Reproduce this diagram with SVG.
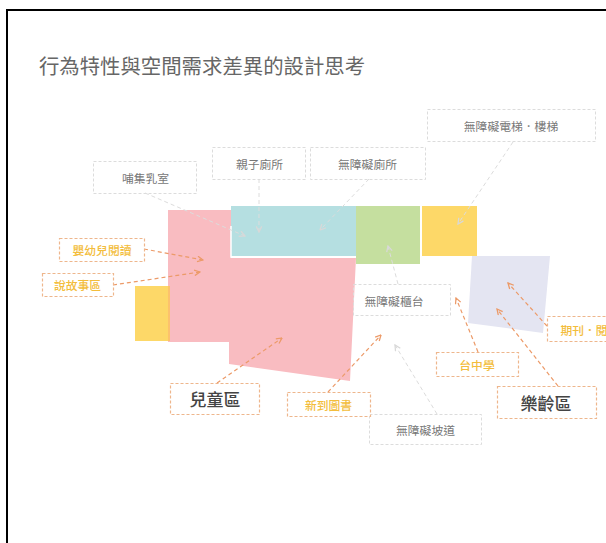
<svg xmlns="http://www.w3.org/2000/svg" width="606" height="543" viewBox="0 0 606 543">
<style>
text{font-family:"Noto Sans CJK TC","Noto Sans CJK SC",sans-serif;text-anchor:middle;dominant-baseline:central}
.g{fill:none;stroke:#dcdcdc;stroke-width:1;stroke-dasharray:3 2}
.o{fill:#fff;stroke:#eeb68c;stroke-width:1.2;stroke-dasharray:3 2}
.gt{font-size:11.800px;fill:#777}
.yt{font-size:11.800px;font-weight:500;fill:#f3bd3c}
.bt{font-size:17px;font-weight:500;fill:#444}
.cg{fill:none;stroke:#dcdcdc;stroke-width:1;stroke-dasharray:4 3}
.co{fill:none;stroke:#ec9a68;stroke-width:1.2;stroke-dasharray:4 3;marker-end:url(#ao)}
</style>
<defs>
<marker id="ao" viewBox="0 0 10 10" refX="9" refY="5" markerWidth="7" markerHeight="7" markerUnits="userSpaceOnUse" orient="auto"><path d="M1 1L9 5L1 9" fill="none" stroke="#ec9a68" stroke-width="1.8"/></marker>
<marker id="ag" viewBox="0 0 10 10" refX="9" refY="5" markerWidth="7" markerHeight="7" markerUnits="userSpaceOnUse" orient="auto"><path d="M1 1L9 5L1 9" fill="none" stroke="#d8d8d8" stroke-width="1.8"/></marker>
</defs>
<rect width="606" height="543" fill="#fff"/>
<path d="M7 543V10H606" fill="none" stroke="#000" stroke-width="2"/>
<text id="title" x="202" y="65" style="font-size:20.400px;fill:#666">行為特性與空間需求差異的設計思考</text>
<g id="areas">
<rect id="area-yellow-left" x="135" y="286" width="35" height="55" fill="#fdd868"/>
<path id="area-children" d="M168 210H231V258H356L350 381L229 364V342H168Z" fill="#f9bcc1"/>
<rect id="area-overlap" x="168" y="286" width="2" height="55" fill="#fcc26c"/>
<rect id="area-teal" x="231" y="206" width="125" height="50" fill="#b5dfe1"/>
<path d="M231 226V257H356" fill="none" stroke="#fff" stroke-width="1.500"/>
<rect id="area-green" x="356" y="206" width="64" height="58" fill="#c5df9f"/>
<rect id="area-yellow-right" x="422" y="206" width="55" height="50" fill="#fdd868"/>
<path id="area-lavender" d="M472 256H550L543 333L468 323Z" fill="#e4e5f2"/>
</g>
<g id="connectors">
<path class="cg" d="M145 193L245 236" marker-end="url(#ag)"/>
<path class="cg" d="M259 179V232" marker-end="url(#ag)"/>
<path class="cg" d="M369 179L320 230" marker-end="url(#ag)"/>
<path class="cg" d="M513 142L458 224" marker-end="url(#ag)"/>
<path class="cg" d="M398 284L388 246" marker-end="url(#ag)"/>
<path class="cg" d="M437 414L395 345" marker-end="url(#ag)"/>
<path class="co" d="M144 249L203 260"/>
<path class="co" d="M113 285L200 272"/>
<path class="co" d="M217 383L282 338"/>
<path class="co" d="M328 392L381 335"/>
<path class="co" d="M478 352L456 298"/>
<path class="co" d="M558 386L497 309"/>
<path class="co" d="M547 326L508 283"/>
</g>
<g id="n-nursing"><rect class="g" x="93.500" y="161.500" width="103" height="32"/><text class="gt" x="145.500" y="177">哺集乳室</text></g>
<g id="n-family-wc"><rect class="g" x="212.500" y="147.500" width="93" height="32"/><text class="gt" x="259.500" y="163">親子廁所</text></g>
<g id="n-access-wc"><rect class="g" x="310.500" y="147.500" width="115" height="32"/><text class="gt" x="367.500" y="163">無障礙廁所</text></g>
<g id="n-elevator"><rect class="g" x="427.500" y="109.500" width="168" height="32"/><text class="gt" x="511" y="125">無障礙電梯．樓梯</text></g>
<g id="n-counter"><rect class="g" x="353.500" y="284.500" width="97" height="31"/><text class="gt" x="394" y="300">無障礙櫃台</text></g>
<g id="n-ramp"><rect class="g" x="369.500" y="414.500" width="112" height="30"/><text class="gt" x="425.500" y="429">無障礙坡道</text></g>
<g id="n-infant"><rect class="o" x="59.500" y="238.500" width="85" height="23"/><text class="yt" x="102" y="249.500">嬰幼兒閱讀</text></g>
<g id="n-story"><rect class="o" x="42.500" y="273.500" width="71" height="23"/><text class="yt" x="77.500" y="284.500">說故事區</text></g>
<g id="n-children"><rect class="o" x="170.500" y="383.500" width="89" height="31"/><text class="bt" x="215" y="398.500">兒童區</text></g>
<g id="n-new"><rect class="o" x="287.500" y="392.500" width="83" height="24"/><text class="yt" x="328.500" y="404">新到圖書</text></g>
<g id="n-taichung"><rect class="o" x="436.500" y="352.500" width="82" height="24"/><text class="yt" x="477" y="364">台中學</text></g>
<g id="n-senior"><rect class="o" x="497.500" y="386.500" width="99" height="32"/><text class="bt" x="546" y="402">樂齡區</text></g>
<g id="n-periodical"><rect class="o" x="547.500" y="316.500" width="80" height="25"/><text class="yt" x="584" y="329">期刊．閱</text></g>
</svg>
